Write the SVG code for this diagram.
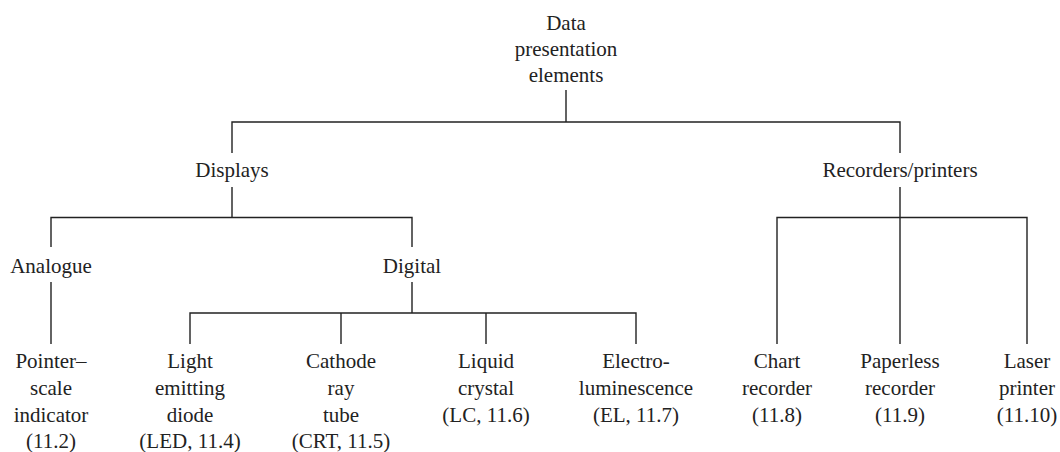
<svg xmlns="http://www.w3.org/2000/svg" width="1060" height="452" viewBox="0 0 1060 452">
  <style>
    .lbl { font-size: 21px; fill: #222; text-anchor: middle; }
    .wire { fill: none; stroke: #222; stroke-width: 1.4; }
  </style>
  <rect width="1060" height="452" fill="#fff"/>

  <!-- connectors -->
  <g id="connectors">
    <path class="wire" d="M566 90 V122 M232 153 V122 H900 V153"/>
    <path class="wire" d="M232 187 V217.5 M51 247 V217.5 H412 V247"/>
    <path class="wire" d="M51 282 V344"/>
    <path class="wire" d="M412 282 V313 M190 344 V313 H636 V344 M341 313 V344 M486 313 V344"/>
    <path class="wire" d="M900 187 V344 M777 344 V217.5 H1027 V344"/>
  </g>

  <!-- nodes -->
  <g class="lbl" font-family="Liberation Serif, DejaVu Serif, serif">
    <g id="root">
      <text x="566" y="30">Data</text>
      <text x="566" y="56">presentation</text>
      <text x="566" y="82">elements</text>
    </g>
    <g id="displays"><text x="232" y="177">Displays</text></g>
    <g id="recorders"><text x="900" y="177">Recorders/printers</text></g>
    <g id="analogue"><text x="51" y="273">Analogue</text></g>
    <g id="digital"><text x="412" y="273">Digital</text></g>

    <g id="pointer">
      <text x="51" y="368">Pointer–</text>
      <text x="51" y="395">scale</text>
      <text x="51" y="422">indicator</text>
      <text x="51" y="448">(11.2)</text>
    </g>
    <g id="led">
      <text x="190" y="368">Light</text>
      <text x="190" y="395">emitting</text>
      <text x="190" y="422">diode</text>
      <text x="190" y="448">(LED, 11.4)</text>
    </g>
    <g id="crt">
      <text x="341" y="368">Cathode</text>
      <text x="341" y="395">ray</text>
      <text x="341" y="422">tube</text>
      <text x="341" y="448">(CRT, 11.5)</text>
    </g>
    <g id="lc">
      <text x="486" y="368">Liquid</text>
      <text x="486" y="395">crystal</text>
      <text x="486" y="422">(LC, 11.6)</text>
    </g>
    <g id="el">
      <text x="636" y="368">Electro-</text>
      <text x="636" y="395">luminescence</text>
      <text x="636" y="422">(EL, 11.7)</text>
    </g>
    <g id="chart">
      <text x="777" y="368">Chart</text>
      <text x="777" y="395">recorder</text>
      <text x="777" y="422">(11.8)</text>
    </g>
    <g id="paperless">
      <text x="900" y="368">Paperless</text>
      <text x="900" y="395">recorder</text>
      <text x="900" y="422">(11.9)</text>
    </g>
    <g id="laser">
      <text x="1027" y="368">Laser</text>
      <text x="1027" y="395">printer</text>
      <text x="1027" y="422">(11.10)</text>
    </g>
  </g>
</svg>
